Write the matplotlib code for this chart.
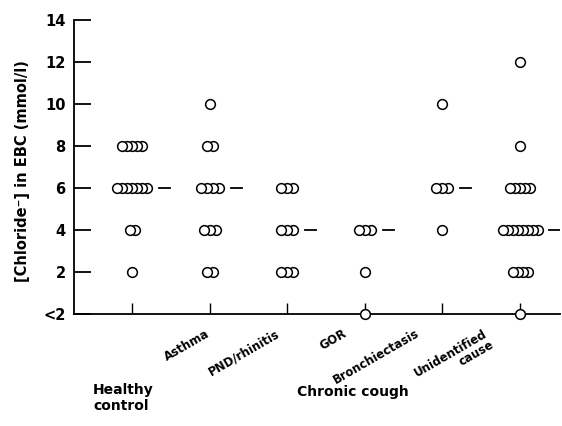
import numpy as np
import matplotlib
matplotlib.use("Agg")
import matplotlib.pyplot as plt

# ---------------- data ----------------
categories = ["Healthy control", "Asthma", "PND/rhinitis", "GOR",
              "Bronchiectasis", "Unidentified\ncause"]
# value 0 represents "<2"
healthy = [2, 4, 4, 6, 6, 6, 6, 6, 6, 6, 8, 8, 8, 8, 8]
asthma = [2, 2, 4, 4, 4, 6, 6, 6, 6, 8, 8, 10]
pnd_rhinitis = [2, 2, 2, 4, 4, 4, 6, 6, 6]
gor = [0, 2, 4, 4, 4]
bronchiectasis = [4, 6, 6, 6, 10]
unidentified = [0, 2, 2, 2, 2, 4, 4, 4, 4, 4, 4, 4, 4, 6, 6, 6, 6, 6, 8, 12]
groups = [healthy, asthma, pnd_rhinitis, gor, bronchiectasis, unidentified]

y_ticks = [0, 2, 4, 6, 8, 10, 12, 14]
y_tick_labels = ["<2", "2", "4", "6", "8", "10", "12", "14"]

# ---------------- style / layout ----------------
W, H = 562, 426
PX_PER_CAT = 77.6
spacing_px = [5, 6, 6, 6, 6, 5]          # horizontal offset of stacked circles
label_dx_px = [0, -4, -12, -22, -27, -37]  # shift of rotated category labels
circle_r_px = 5

fig = plt.figure(figsize=(W / 100, H / 100), dpi=100)
ax = fig.add_axes([74 / W, 1 - 314 / H, (560 - 74) / W, (314 - 20) / H])
ax.set_xlim((74 - 132) / PX_PER_CAT, (560 - 132) / PX_PER_CAT)
ax.set_ylim(0, 14)

for i, vals in enumerate(groups):
    vals = np.array(vals)
    d = spacing_px[i] / PX_PER_CAT
    xs, ys = [], []
    for v in np.unique(vals):
        n = int(np.sum(vals == v))
        offs = (np.arange(n) - (n - 1) / 2) * d
        for o in offs[::-1]:
            xs.append(i + o)
            ys.append(v)
    ax.plot(xs, ys, 'o', ms=7, mfc='white', mec='black', mew=1.1,
            clip_on=False, zorder=5, linestyle='none')
    med = np.median(vals)
    n_med = int(np.sum(vals == med))
    right = i + ((n_med - 1) / 2) * d + circle_r_px / PX_PER_CAT
    x0 = right + 7 / PX_PER_CAT
    x1 = right + 18 / PX_PER_CAT
    ax.plot([x0, x1], [med, med], color='black', lw=1.3, zorder=4)

for s in ['top', 'right']:
    ax.spines[s].set_visible(False)
for s in ['left', 'bottom']:
    ax.spines[s].set_linewidth(1.3)

ax.set_yticks(y_ticks)
ax.set_yticklabels(y_tick_labels, fontsize=10.5, fontweight='bold')
ax.tick_params(axis='y', direction='in', length=12, width=1.3, pad=6)
ax.set_xticks(range(len(categories)))
ax.set_xticklabels([])
ax.tick_params(axis='x', direction='in', length=8, width=1.0)

for i in range(1, len(categories)):
    ax.annotate(categories[i], xy=(i, 0), xycoords=('data', 'axes fraction'),
                xytext=(label_dx_px[i] * 0.72, -13 * 0.72), textcoords='offset points',
                rotation=30, ha='right', va='top', rotation_mode='anchor',
                fontsize=8.5, fontweight='bold', linespacing=1.0)

fig.text(93 / W, 1 - 383 / H, "Healthy\ncontrol", ha='left', va='top',
         fontsize=10, fontweight='bold', linespacing=1.15)
fig.text(297 / W, 1 - 385 / H, "Chronic cough", ha='left', va='top',
         fontsize=10, fontweight='bold')
fig.text(23 / W, 1 - 171 / H, "[Chloride\u207b] in EBC (mmol/l)", rotation=90,
         ha='center', va='center', fontsize=10.5, fontweight='bold')

fig.savefig("out.png", dpi=100)
